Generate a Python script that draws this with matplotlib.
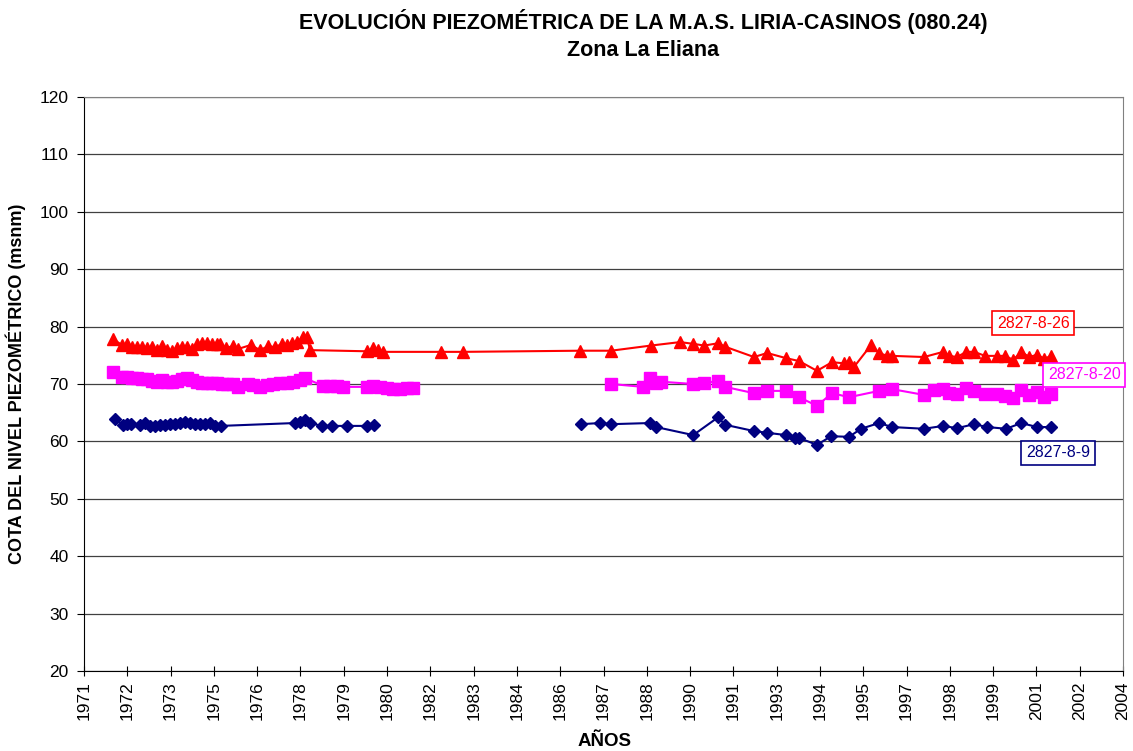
import matplotlib
matplotlib.use("Agg")
import matplotlib.pyplot as plt
import numpy as np

plt.rcParams['font.family'] = ['Liberation Sans', 'DejaVu Sans']

# 2827-8-26 (red triangles)
x26 = [1971.92, 1972.21, 1972.37, 1972.52, 1972.68, 1972.84, 1973.00, 1973.16, 1973.32, 1973.48,
       1973.64, 1973.80, 1973.95, 1974.11, 1974.27, 1974.43, 1974.59, 1974.75, 1974.91, 1975.07,
       1975.22, 1975.32, 1975.51, 1975.73, 1975.89, 1976.30, 1976.59, 1976.85, 1977.07, 1977.29,
       1977.45, 1977.61, 1977.77, 1977.96, 1978.08, 1978.18, 1979.99, 1980.18, 1980.34, 1980.50,
       1982.34, 1983.04, 1986.76, 1987.74, 1989.01, 1989.93, 1990.35, 1990.70, 1991.14, 1991.36,
       1992.28, 1992.70, 1993.30, 1993.71, 1994.28, 1994.76, 1995.14, 1995.30, 1995.46, 1996.00,
       1996.25, 1996.51, 1996.67, 1997.68, 1998.29, 1998.48, 1998.73, 1999.02, 1999.27, 1999.62,
       2000.00, 2000.26, 2000.51, 2000.77, 2001.02, 2001.27, 2001.50, 2001.72]
y26 = [77.8, 76.8, 77.0, 76.4, 76.4, 76.4, 76.3, 76.4, 75.9, 76.6,
       75.9, 75.7, 76.3, 76.4, 76.4, 76.1, 77.0, 77.1, 77.1, 77.0,
       77.0, 77.0, 76.3, 76.6, 76.1, 76.8, 75.9, 76.6, 76.4, 77.0,
       76.8, 77.1, 77.3, 78.2, 78.2, 75.9, 75.7, 76.2, 76.0, 75.6,
       75.6, 75.6, 75.8, 75.8, 76.7, 77.3, 77.0, 76.7, 77.1, 76.5,
       74.7, 75.4, 74.5, 74.0, 72.3, 73.8, 73.6, 73.8, 73.0, 76.8,
       75.4, 74.9, 74.9, 74.7, 75.6, 74.9, 74.7, 75.6, 75.6, 74.9,
       74.9, 74.9, 74.2, 75.6, 74.7, 75.1, 74.4, 74.9]

# 2827-8-20 (magenta squares), nan = gap in the record
x20 = [1971.92, 1972.21, 1972.37, 1972.52, 1972.68, 1972.84, 1973.00, 1973.16, 1973.32, 1973.48,
       1973.64, 1973.80, 1973.95, 1974.11, 1974.27, 1974.43, 1974.59, 1974.75, 1974.91, 1975.07,
       1975.22, 1975.38, 1975.54, 1975.73, 1975.89, 1976.21, 1976.37, 1976.59, 1976.81, 1977.00,
       1977.23, 1977.45, 1977.64, 1977.86, 1978.02, 1978.59, 1978.81, 1979.04, 1979.23, 1979.99,
       1980.18, 1980.40, 1980.63, 1980.82, 1981.04, 1981.26, 1981.45, 1984.5, 1987.74, 1988.76,
       1988.98, 1989.17, 1989.33, 1990.35, 1990.70, 1991.14, 1991.36, 1992.28, 1992.70, 1993.30,
       1993.71, 1994.28, 1994.76, 1995.30, 1996.25, 1996.67, 1997.68, 1998.00, 1998.29, 1998.48,
       1998.73, 1999.02, 1999.27, 1999.62, 2000.00, 2000.26, 2000.51, 2000.77, 2001.02, 2001.27,
       2001.50, 2001.72]
y20 = [72.1, 71.2, 71.2, 71.0, 71.0, 70.9, 70.9, 70.5, 70.3, 70.7,
       70.3, 70.3, 70.5, 70.9, 71.0, 70.7, 70.3, 70.2, 70.2, 70.2,
       70.2, 70.0, 70.0, 70.0, 69.5, 70.0, 69.8, 69.5, 69.8, 70.0,
       70.2, 70.2, 70.3, 70.7, 71.0, 69.7, 69.7, 69.7, 69.5, 69.5,
       69.7, 69.5, 69.3, 69.1, 69.1, 69.3, 69.3, np.nan, 70.0, 69.5,
       71.0, 70.2, 70.4, 70.0, 70.2, 70.5, 69.5, 68.4, 68.8, 68.8,
       67.7, 66.2, 68.4, 67.7, 68.8, 69.1, 68.1, 69.0, 69.1, 68.4,
       68.2, 69.3, 68.8, 68.2, 68.2, 67.9, 67.6, 69.0, 68.1, 68.6,
       67.7, 68.2]

# 2827-8-9 (navy diamonds)
x9 = [1971.98, 1972.24, 1972.37, 1972.49, 1972.78, 1972.94, 1973.10, 1973.26, 1973.41, 1973.57,
      1973.73, 1973.89, 1974.05, 1974.21, 1974.37, 1974.53, 1974.68, 1974.84, 1975.00, 1975.16,
      1975.35, 1977.70, 1977.86, 1978.02, 1978.18, 1978.56, 1978.88, 1979.35, 1979.99, 1980.21,
      1983.5, 1986.79, 1987.39, 1987.74, 1988.98, 1989.17, 1990.35, 1991.14, 1991.36, 1992.28,
      1992.70, 1993.30, 1993.59, 1993.71, 1994.28, 1994.73, 1995.30, 1995.68, 1996.25, 1996.67,
      1997.68, 1998.29, 1998.73, 1999.27, 1999.69, 2000.29, 2000.77, 2001.27, 2001.72]
y9 = [63.9, 62.9, 63.0, 63.0, 62.9, 63.2, 62.7, 62.7, 62.9, 62.9,
      63.0, 63.0, 63.2, 63.4, 63.2, 63.0, 63.0, 63.0, 63.2, 62.7,
      62.7, 63.2, 63.4, 63.7, 63.2, 62.7, 62.7, 62.7, 62.7, 62.9,
      np.nan, 63.0, 63.2, 63.0, 63.2, 62.5, 61.1, 64.2, 62.9, 61.8,
      61.5, 61.1, 60.6, 60.6, 59.4, 60.9, 60.8, 62.2, 63.2, 62.5,
      62.2, 62.7, 62.3, 63.0, 62.5, 62.2, 63.2, 62.5, 62.5]

xtick_labels = ['1971', '1972', '1973', '1975', '1976', '1978', '1979', '1980', '1982', '1983',
                '1984', '1986', '1987', '1988', '1990', '1991', '1993', '1994', '1995', '1997',
                '1998', '1999', '2001', '2002', '2004']

fig = plt.figure(figsize=(11.33, 7.51), dpi=100)
ax = fig.add_axes([84/1133, 1-671/751, (1123-84)/1133, (671-97)/751])

ax.plot(x26, y26, color='#FF0000', marker='^', markersize=9, lw=1.5)
ax.plot(x20, y20, color='#FF00FF', marker='s', markersize=8, lw=1.5)
ax.plot(x9, y9, color='#000080', marker='D', markersize=6.5, lw=1.5)

ax.set_xlim(1971, 2004)
ax.set_ylim(20, 120)
ax.set_yticks(np.arange(20, 121, 10))
ax.set_xticks(np.linspace(1971, 2004, len(xtick_labels)))
ax.set_xticklabels(xtick_labels, rotation=90, fontsize=12.5)
ax.tick_params(axis='y', labelsize=12.5, direction='out', length=5, pad=6)
ax.tick_params(axis='x', direction='inout', length=7, pad=4)
ax.yaxis.grid(True, color='#404040', lw=0.9)
ax.set_axisbelow(True)
for s in ['top', 'right']:
    ax.spines[s].set_color('#808080')
ax.spines['left'].set_color('black')
ax.spines['bottom'].set_color('black')

ax.set_ylabel('COTA DEL NIVEL PIEZOMÉTRICO (msnm)', fontsize=13, fontweight='bold', labelpad=10)
fig.text(605/1133, 1-741/751, 'AÑOS', fontsize=13.5, fontweight='bold', ha='center', va='center')

fig.text(643/1133, 1-22/751, 'EVOLUCIÓN PIEZOMÉTRICA DE LA M.A.S. LIRIA-CASINOS (080.24)',
         fontsize=15.5, fontweight='bold', ha='center', va='center')
fig.text(643/1133, 1-50/751, 'Zona La Eliana', fontsize=15.5, fontweight='bold',
         ha='center', va='center')

for txt, xx, yy, col in [('2827-8-26', 2001.15, 80.6, '#FF0000'),
                         ('2827-8-20', 2002.77, 71.6, '#FF00FF'),
                         ('2827-8-9', 2001.94, 58.0, '#000080')]:
    ax.text(xx, yy, txt, color=col, fontsize=11.5, ha='center', va='center',
            bbox=dict(boxstyle='square,pad=0.3', fc='white', ec=col, lw=1.2))

fig.savefig('out.png', dpi=100)
